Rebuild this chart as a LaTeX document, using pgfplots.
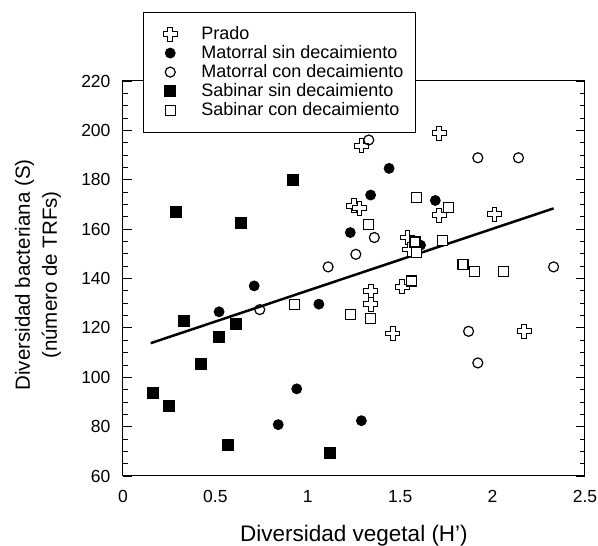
\documentclass[border=0pt]{standalone}
\usepackage{pgfplots}
\pgfplotsset{compat=1.18}
\usepackage{fontspec}
\setmainfont{Liberation Sans}
\pgfdeclareplotmark{pcross}{%
  \pgfpathmoveto{\pgfqpoint{-0.34\pgfplotmarksize}{\pgfplotmarksize}}%
  \pgfpathlineto{\pgfqpoint{0.34\pgfplotmarksize}{\pgfplotmarksize}}%
  \pgfpathlineto{\pgfqpoint{0.34\pgfplotmarksize}{0.34\pgfplotmarksize}}%
  \pgfpathlineto{\pgfqpoint{\pgfplotmarksize}{0.34\pgfplotmarksize}}%
  \pgfpathlineto{\pgfqpoint{\pgfplotmarksize}{-0.34\pgfplotmarksize}}%
  \pgfpathlineto{\pgfqpoint{0.34\pgfplotmarksize}{-0.34\pgfplotmarksize}}%
  \pgfpathlineto{\pgfqpoint{0.34\pgfplotmarksize}{-\pgfplotmarksize}}%
  \pgfpathlineto{\pgfqpoint{-0.34\pgfplotmarksize}{-\pgfplotmarksize}}%
  \pgfpathlineto{\pgfqpoint{-0.34\pgfplotmarksize}{-0.34\pgfplotmarksize}}%
  \pgfpathlineto{\pgfqpoint{-\pgfplotmarksize}{-0.34\pgfplotmarksize}}%
  \pgfpathlineto{\pgfqpoint{-\pgfplotmarksize}{0.34\pgfplotmarksize}}%
  \pgfpathlineto{\pgfqpoint{-0.34\pgfplotmarksize}{0.34\pgfplotmarksize}}%
  \pgfpathclose
  \pgfusepathqfillstroke
}
\pgfplotsset{myleg/.style={legend image code/.code={\path[draw=none,fill=none] (0pt,-3pt) rectangle (46pt,3pt);\draw[mark repeat=2,mark phase=2,##1] plot coordinates {(0pt,0pt) (17pt,0pt) (46pt,0pt)};}}}
\begin{document}
\begin{tikzpicture}
\path[use as bounding box] (-123pt,-70pt) rectangle (475pt,476pt);
\begin{axis}[
  scale only axis,
  width=462pt, height=395pt,
  xmin=0, xmax=2.5, ymin=60, ymax=220,
  xtick={0,0.5,1,1.5,2,2.5},
  xticklabels={0,0.5,1,1.5,2,2.5},
  ytick={60,80,...,220},
  minor y tick num=3,
  major x tick style={draw=none},
  tick align=inside,
  ytick pos=both,
  xtick pos=bottom,
  major tick length=9pt,
  minor tick length=5pt,
  tick style={black, line width=0.8pt},
  axis line style={line width=1pt},
  /pgf/number format/assume math mode=true,
  tick label style={font=\fontsize{17.5}{20}\selectfont},
  x tick label style={yshift=-11pt},
  y tick label style={xshift=-9pt},
  xlabel={Diversidad vegetal (H{\char"27})},
  ylabel={Diversidad bacteriana (S)\\(número de TRFs)},
  xlabel style={font=\fontsize{22.5}{27}\selectfont, at={(axis description cs:0.5,-0.151)}, anchor=center},
  ylabel style={font=\fontsize{20.5}{27}\selectfont, at={(axis description cs:-0.184,0.509)}, anchor=center, align=center},
  legend style={at={(axis description cs:0.043,1.175)}, anchor=north west,
    draw=black, line width=0.8pt, font=\fontsize{18}{21}\selectfont,
    row sep=0.5pt, inner xsep=10pt, inner ysep=12.5pt},
  legend cell align=left,
  clip=false,
]
\addplot[only marks, myleg, mark=pcross, mark size=7pt, mark options={fill=white, draw=black, line width=1pt}] coordinates {
(1.29,193.8) (1.71,198.8) (1.25,169.5) (1.28,168.5) (1.71,165.7) (2.01,166)
(1.54,156.6) (1.55,151.7) (1.51,136.6) (1.34,134.8) (1.34,129.6) (1.46,117.7) (2.17,118.6)
};
\addlegendentry{Prado}
\addplot[only marks, myleg, mark=*, mark size=5pt, mark options={fill=black, draw=black, line width=0.8pt}] coordinates {
(1.44,184.6) (1.34,173.8) (1.69,171.6) (1.23,158.6) (1.61,153.5) (0.71,137)
(0.52,126.5) (1.06,129.6) (0.94,95.3) (0.84,80.8) (1.29,82.4)
};
\addlegendentry{Matorral sin decaimiento}
\addplot[only marks, myleg, mark=o, mark size=5pt, mark options={fill=white, draw=black, line width=1.2pt}] coordinates {
(1.33,196.1) (1.92,188.9) (2.14,188.9) (1.26,149.8) (1.11,144.7) (1.36,156.6)
(0.74,127.4) (2.33,144.7) (1.87,118.6) (1.92,105.8)
};
\addlegendentry{Matorral con decaimiento}
\addplot[only marks, myleg, mark=square*, mark size=5.5pt, mark options={fill=black, draw=black, line width=0.8pt}] coordinates {
(0.285,167) (0.64,162.7) (0.92,179.9) (0.33,122.7) (0.61,121.7) (0.52,116.3)
(0.42,105.5) (0.16,93.6) (0.25,88.3) (0.57,72.4) (1.12,69.3)
};
\addlegendentry{Sabinar sin decaimiento}
\addplot[only marks, myleg, mark=square*, mark size=5pt, mark options={fill=white, draw=black, line width=1.2pt}] coordinates {
(1.59,172.8) (1.76,168.8) (1.33,161.9) (1.58,154.8) (1.59,150.4) (1.73,155.5)
(1.84,145.8) (1.90,142.7) (2.06,142.7) (1.56,139) (1.34,123.8) (1.23,125.4) (0.93,129.6)
};
\addlegendentry{Sabinar con decaimiento}
\addplot[no marks, black, line width=2.5pt, forget plot] coordinates {(0.15,113.8) (2.33,168.4)};
\end{axis}
\end{tikzpicture}
\end{document}
